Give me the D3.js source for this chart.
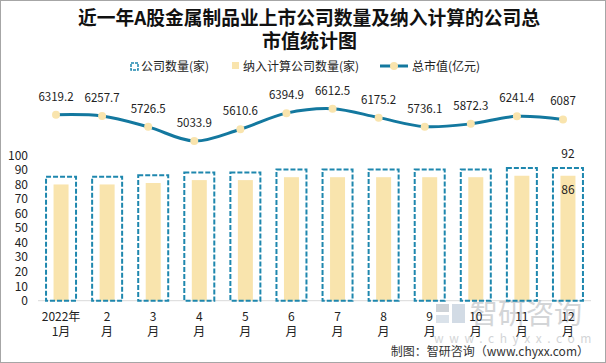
<!DOCTYPE html>
<html>
<head>
<meta charset="utf-8">
<script src="https://cdn.jsdelivr.net/npm/d3@7"></script>
<style>
  body { margin: 0; background: #fff; }
  svg { display: block; font-family: "Microsoft YaHei", "Noto Sans CJK SC", sans-serif; }
</style>
</head>
<body>
<svg id="chart" width="606" height="363"></svg>
<script>
// data
let months = ["1", "2", "3", "4", "5", "6", "7", "8", "9", "10", "11", "12"];
let monthLabels = [["2022年", "1月"], ["2", "月"], ["3", "月"], ["4", "月"], ["5", "月"], ["6", "月"],
                   ["7", "月"], ["8", "月"], ["9", "月"], ["10", "月"], ["11", "月"], ["12", "月"]];
let companyCount = [86, 86, 87, 89, 89, 91, 91, 91, 91, 91, 92, 92];
let countedCount = [80, 80, 81, 83, 83, 85, 85, 85, 85, 85, 86, 86];
let marketValue = [6319.2, 6257.7, 5726.5, 5033.9, 5610.6, 6394.9, 6612.5, 6175.2, 5736.1, 5872.3, 6241.4, 6087];
let yTicks = [0, 10, 20, 30, 40, 50, 60, 70, 80, 90, 100];

let boxColor = "#1e87ae";
let lineColor = "#13789f";
let barColor = "#f9e4ad";
let textColor = "#222";

let svg = d3.select("#chart");

// outer frame
svg.append("rect")
    .attr("x", 0.5).attr("y", 0.5)
    .attr("width", 605).attr("height", 362)
    .attr("fill", "none")
    .attr("stroke", "#a6a6a6");

// title
let title = svg.append("g")
    .style("font-family", "'Noto Sans CJK SC', sans-serif")
    .style("font-weight", "bold")
    .style("font-size", "19px")
    .attr("fill", "#111");
title.append("text").attr("x", 78).attr("y", 25)
    .attr("textLength", 462).attr("lengthAdjust", "spacingAndGlyphs")
    .text("近一年A股金属制品业上市公司数量及纳入计算的公司总");
title.append("text").attr("x", 262).attr("y", 48)
    .attr("textLength", 95).attr("lengthAdjust", "spacingAndGlyphs")
    .text("市值统计图");

// scales
let xScale = d3.scaleBand()
    .domain(months)
    .range([38, 591]);

let yScale = d3.scaleLinear()
    .domain([0, 100])
    .range([300.7, 155.4]);

let xLine = d3.scalePoint()
    .domain(months)
    .range([56, 563]);

let yLine = d3.scaleLinear()
    .domain([5000, 6700])
    .range([141.7, 106.9]);

let bw = xScale.bandwidth();
let boxW = 30;
let barW = 15;

// baseline
svg.append("line")
    .attr("x1", 38).attr("x2", 591)
    .attr("y1", yScale(0)).attr("y2", yScale(0))
    .attr("stroke", "#d9d9d9");

// y axis labels
let yAxis = d3.axisLeft(yScale).tickValues(yTicks).tickSize(0).tickPadding(0);
let gy = svg.append("g")
    .attr("transform", "translate(28,0)")
    .call(yAxis);
gy.select(".domain").remove();
gy.selectAll("text")
    .style("font-size", "12px")
    .style("font-family", "'Microsoft YaHei', 'Noto Sans CJK SC', sans-serif")
    .attr("fill", textColor);

// watermark (drawn under the labels)
let wm = svg.append("g").attr("opacity", 0.5);
wm.append("rect").attr("x", 436).attr("y", 304).attr("width", 13).attr("height", 8).attr("fill", "#9fa8b2");
wm.append("rect").attr("x", 436).attr("y", 315).attr("width", 13).attr("height", 8).attr("fill", "#b6c6d6");
wm.append("rect").attr("x", 452).attr("y", 304).attr("width", 13).attr("height", 19).attr("fill", "#a6b9cc");
wm.append("text")
    .attr("x", 470).attr("y", 324)
    .style("font-size", "28px")
    .attr("fill", "#a8acb0")
    .text("智研咨询");
wm.append("text")
    .attr("x", 434).attr("y", 343)
    .style("font-size", "12px")
    .style("letter-spacing", "5.6px")
    .attr("fill", "#a8acb0")
    .text("www.chyxx.com");

// inner bars (纳入计算)
svg.selectAll(".bar")
    .data(countedCount)
    .enter().append("rect")
    .attr("class", "bar")
    .attr("x", (d, i) => xScale(months[i]) + bw / 2 - barW / 2)
    .attr("y", d => yScale(d))
    .attr("width", barW)
    .attr("height", d => yScale(0) - yScale(d))
    .attr("fill", barColor);

// dashed boxes (公司数量)
svg.selectAll(".box")
    .data(companyCount)
    .enter().append("rect")
    .attr("class", "box")
    .attr("x", (d, i) => xScale(months[i]) + bw / 2 - boxW / 2)
    .attr("y", d => yScale(d) + 1)
    .attr("width", boxW)
    .attr("height", d => yScale(0) - yScale(d) - 1)
    .attr("fill", "none")
    .attr("stroke", boxColor)
    .attr("stroke-width", 2)
    .attr("stroke-dasharray", "5,2");

// labels on the last month
let last = months.length - 1;
svg.append("text")
    .attr("x", xScale(months[last]) + bw / 2)
    .attr("y", yScale(companyCount[last]) - 9)
    .attr("text-anchor", "middle")
    .style("font-size", "12px")
    .attr("fill", textColor)
    .text(companyCount[last]);
svg.append("text")
    .attr("x", xScale(months[last]) + bw / 2)
    .attr("y", yScale(countedCount[last]) + 18)
    .attr("text-anchor", "middle")
    .style("font-size", "12px")
    .attr("fill", textColor)
    .text(countedCount[last]);

// market value line
let line = d3.line()
    .x((d, i) => xLine(months[i]))
    .y(d => yLine(d))
    .curve(d3.curveCatmullRom.alpha(0.5));

svg.append("path")
    .datum(marketValue)
    .attr("d", line)
    .attr("fill", "none")
    .attr("stroke", lineColor)
    .attr("stroke-width", 3);

svg.selectAll(".point")
    .data(marketValue)
    .enter().append("circle")
    .attr("class", "point")
    .attr("cx", (d, i) => xLine(months[i]))
    .attr("cy", d => yLine(d))
    .attr("r", 4)
    .attr("fill", barColor);

svg.selectAll(".vlabel")
    .data(marketValue)
    .enter().append("text")
    .attr("class", "vlabel")
    .attr("x", (d, i) => xLine(months[i]))
    .attr("y", d => yLine(d) - 14)
    .attr("text-anchor", "middle")
    .style("font-size", "11.5px")
    .attr("fill", textColor)
    .text(d => d);

// x labels
let xl = svg.selectAll(".xlabel")
    .data(monthLabels)
    .enter().append("text")
    .attr("class", "xlabel")
    .attr("text-anchor", "middle")
    .style("font-size", "12px")
    .attr("fill", textColor);
xl.append("tspan")
    .attr("x", (d, i) => xScale(months[i]) + bw / 2)
    .attr("y", 321)
    .text(d => d[0]);
xl.append("tspan")
    .attr("x", (d, i) => xScale(months[i]) + bw / 2)
    .attr("y", 336)
    .text(d => d[1]);

// legend
let legend = svg.append("g").style("font-size", "12px");
legend.append("rect")
    .attr("x", 131).attr("y", 63).attr("width", 7).attr("height", 7)
    .attr("fill", "none").attr("stroke", boxColor).attr("stroke-width", 1.5)
    .attr("stroke-dasharray", "3,1");
legend.append("text").attr("x", 141).attr("y", 71).attr("fill", textColor).text("公司数量(家)");
legend.append("rect")
    .attr("x", 232).attr("y", 62).attr("width", 7).attr("height", 7)
    .attr("fill", barColor);
legend.append("text").attr("x", 243).attr("y", 71).attr("fill", textColor).text("纳入计算公司数量(家)");
legend.append("line")
    .attr("x1", 380).attr("x2", 408).attr("y1", 66).attr("y2", 66)
    .attr("stroke", lineColor).attr("stroke-width", 3);
legend.append("circle").attr("cx", 394).attr("cy", 66).attr("r", 4).attr("fill", barColor);
legend.append("text").attr("x", 412).attr("y", 71).attr("fill", textColor).text("总市值(亿元)");

// source
svg.append("text")
    .attr("x", 589).attr("y", 356)
    .attr("text-anchor", "end")
    .style("font-size", "12px")
    .attr("fill", "#333")
    .text("制图：智研咨询（www.chyxx.com）");
</script>
</body>
</html>
